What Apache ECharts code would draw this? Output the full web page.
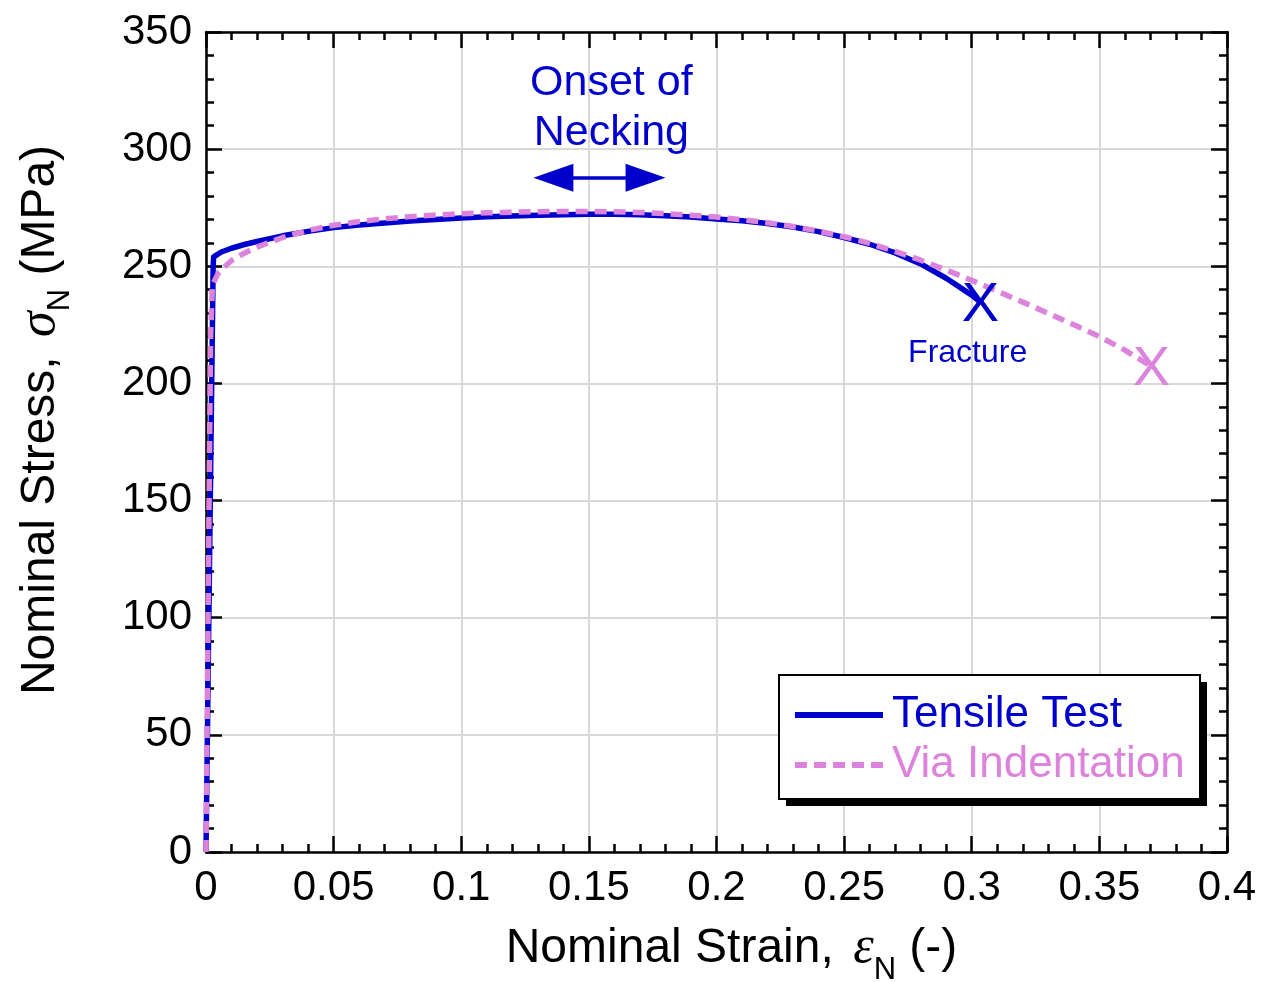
<!DOCTYPE html>
<html>
<head>
<meta charset="utf-8">
<title>Nominal stress-strain curves</title>
<script src="https://cdn.jsdelivr.net/npm/echarts@6/dist/echarts.min.js"></script>
<style>
  html, body { margin: 0; padding: 0; background: #ffffff; }
  #chart { width: 1261px; height: 982px; }
</style>
</head>
<body>
<div id="chart"></div>
<script>
// Nominal strain / nominal stress (MPa) from the uniaxial tensile test
var tensileStrain = [0, 0.0028, 0.003, 0.006, 0.01, 0.015, 0.02, 0.03, 0.04, 0.05, 0.06, 0.07, 0.08, 0.09, 0.1, 0.11, 0.12, 0.13, 0.14, 0.15, 0.16, 0.17, 0.18, 0.19, 0.2, 0.21, 0.22, 0.23, 0.24, 0.25, 0.26, 0.27, 0.28, 0.29, 0.3, 0.303];
var tensileStress = [0, 250, 254, 256.1, 257.7, 259.3, 260.6, 263, 264.9, 266.5, 267.6, 268.5, 269.3, 270, 270.6, 271.1, 271.5, 271.8, 272.05, 272.2, 272.2, 272, 271.6, 271, 270.2, 269.4, 268.3, 266.8, 264.8, 262.3, 259.4, 255.7, 251, 244.9, 237.7, 235];

// Nominal strain / nominal stress (MPa) estimated via indentation
var indentStrain = [0, 0.0012, 0.0018, 0.0025, 0.005, 0.01, 0.015, 0.02, 0.03, 0.04, 0.05, 0.06, 0.07, 0.08, 0.09, 0.1, 0.11, 0.12, 0.13, 0.14, 0.15, 0.16, 0.17, 0.18, 0.19, 0.2, 0.21, 0.22, 0.23, 0.24, 0.25, 0.26, 0.27, 0.28, 0.29, 0.3, 0.31, 0.32, 0.33, 0.34, 0.35, 0.36, 0.37];
var indentStress = [0, 150, 220, 242, 247.5, 252.5, 255.6, 258.2, 262.3, 265.3, 267.5, 269.1, 270.3, 271.2, 271.9, 272.4, 272.8, 273.1, 273.3, 273.4, 273.4, 273.3, 273, 272.5, 271.8, 271, 269.9, 268.6, 267, 265, 262.6, 259.8, 256.4, 252.6, 248.4, 244, 239.4, 234.7, 229.9, 225, 220, 214.2, 207.5];

var seriesNames = ['Tensile Test', 'Via Indentation'];
var xTicks = { min: 0, max: 0.4, step: 0.05 };
var yTicks = { min: 0, max: 350, step: 50 };

// Annotation positions (strain, stress)
var neckingText = ['Onset of', 'Necking'];
var neckingLabelAt = [0.1588, 317.5];
var neckingRange = [0.1361, 0.1722, 287.8];
var fractureText = 'Fracture';
var fractureLabelAt = [0.2984, 213];

var BLUE = '#0000cd';
var PINK = '#dc84dc';
var FONT = '"Liberation Sans", Arial, Helvetica, sans-serif';
var SERIF = '"Liberation Serif", "Times New Roman", serif';

// legend swatches: a solid bar and a row of dashes (88 x 6)
var SOLID_ICON = 'path://M0,0H88V6H0Z';
var DASH_ICON = 'path://M0,0H12V6H0Z M19,0H31V6H19Z M38,0H50V6H38Z M57,0H69V6H57Z M76,0H88V6H76Z';

function pairs(xs, ys) {
  return xs.map(function (x, i) { return [x, ys[i]]; });
}
var tensileData = pairs(tensileStrain, tensileStress);
var indentData = pairs(indentStrain, indentStress);

function frameAxis(extra) {
  var base = {
    type: 'value',
    axisLine: { show: true, onZero: false, lineStyle: { color: '#000', width: 2.5 } },
    axisTick: { show: true, inside: true, length: 16, lineStyle: { color: '#000', width: 2.5 } },
    minorTick: { show: true, splitNumber: 5, length: 8, lineStyle: { color: '#000', width: 2.5 } },
    splitLine: { show: false },
    axisLabel: { show: false }
  };
  return Object.assign(base, extra);
}

var chart = echarts.init(document.getElementById('chart'), null, { renderer: 'canvas' });

var legendBox = { x: 779, y: 675, width: 421, height: 124, shadow: 7 };

var option = {
  animation: false,
  backgroundColor: '#ffffff',
  grid: { left: 206, right: 34, top: 32, bottom: 130, containLabel: false, outerBoundsMode: 'none' },
  graphic: [
    {
      type: 'rect', z: 10, silent: true,
      shape: { x: legendBox.x + legendBox.shadow, y: legendBox.y + legendBox.shadow, width: legendBox.width, height: legendBox.height },
      style: { fill: '#000000' }
    },
    {
      type: 'rect', z: 11, silent: true,
      shape: { x: legendBox.x, y: legendBox.y, width: legendBox.width, height: legendBox.height },
      style: { fill: '#ffffff', stroke: '#000000', lineWidth: 2 }
    }
  ],
  legend: {
    orient: 'vertical',
    left: legendBox.x,
    top: legendBox.y,
    z: 20,
    data: [
      { name: seriesNames[0], icon: SOLID_ICON, textStyle: { color: BLUE } },
      { name: seriesNames[1], icon: DASH_ICON, textStyle: { color: PINK } }
    ],
    itemWidth: 88,
    itemHeight: 6,
    itemGap: 2,
    padding: [16, 16, 10, 16],
    textStyle: { fontFamily: FONT, fontSize: 44, lineHeight: 48, padding: [0, 0, 0, 4] },
    selectedMode: false
  },
  xAxis: [
    frameAxis({
      position: 'bottom',
      min: xTicks.min, max: xTicks.max, interval: xTicks.step,
      splitLine: { show: true, lineStyle: { color: '#d9d9d9', width: 2 } },
      axisLabel: { show: true, color: '#000', fontFamily: FONT, fontSize: 42, margin: 15 },
      name: 'Nominal Strain, {e|ε}{n|N} {a|(-)}',
      nameLocation: 'middle',
      nameGap: 59,
      nameTextStyle: {
        color: '#000', fontFamily: FONT, fontSize: 48, padding: [0, 0, 0, 30],
        rich: {
          a: { color: '#000', fontFamily: FONT, fontSize: 48 },
          e: { color: '#000', fontFamily: SERIF, fontStyle: 'italic', fontSize: 52, padding: [0, 0, 0, 6] },
          n: { color: '#000', fontFamily: FONT, fontSize: 31, padding: [44, 0, 0, 0] }
        }
      }
    }),
    frameAxis({ position: 'top', min: xTicks.min, max: xTicks.max, interval: xTicks.step })
  ],
  yAxis: [
    frameAxis({
      position: 'left',
      min: yTicks.min, max: yTicks.max, interval: yTicks.step,
      splitLine: { show: true, lineStyle: { color: '#d9d9d9', width: 2 } },
      axisLabel: { show: true, color: '#000', fontFamily: FONT, fontSize: 42, margin: 14 },
      name: 'Nominal Stress, {s|σ}{n|N} {a|(MPa)}',
      nameLocation: 'middle',
      nameRotate: 90,
      nameGap: 130,
      nameTextStyle: {
        color: '#000', fontFamily: FONT, fontSize: 48, padding: [0, 0, 0, 44],
        rich: {
          a: { color: '#000', fontFamily: FONT, fontSize: 48 },
          s: { color: '#000', fontFamily: SERIF, fontStyle: 'italic', fontSize: 52, padding: [0, 0, 0, 6] },
          n: { color: '#000', fontFamily: FONT, fontSize: 31, padding: [40, 0, 0, 0] }
        }
      }
    }),
    frameAxis({ position: 'right', min: yTicks.min, max: yTicks.max, interval: yTicks.step })
  ],
  series: [
    {
      name: seriesNames[0],
      type: 'line',
      data: tensileData,
      showSymbol: false,
      symbol: 'none',
      smooth: false,
      lineStyle: { color: BLUE, width: 5.5, type: 'solid', join: 'round' },
      itemStyle: { color: BLUE },
      z: 3,
      markLine: {
        silent: true,
        symbol: ['triangle', 'triangle'],
        symbolSize: [28, 40],
        label: { show: false },
        lineStyle: { color: BLUE, width: 3.5, type: 'solid' },
        itemStyle: { color: BLUE },
        data: [[
          { coord: [neckingRange[0], neckingRange[2]] },
          { coord: [neckingRange[1], neckingRange[2]] }
        ]]
      }
    },
    {
      name: seriesNames[1],
      type: 'line',
      data: indentData,
      showSymbol: false,
      symbol: 'none',
      smooth: false,
      lineStyle: { color: PINK, width: 5.5, type: [12, 7], join: 'round' },
      itemStyle: { color: PINK },
      z: 4
    },
    {
      // fracture markers at the last point of each curve
      name: 'fracture',
      type: 'scatter',
      silent: true,
      symbolSize: 0,
      z: 5,
      itemStyle: { opacity: 1 },
      data: [
        { value: tensileData[tensileData.length - 1], label: { color: BLUE } },
        { value: indentData[indentData.length - 1], label: { color: PINK } }
      ],
      label: {
        show: true, position: 'inside', formatter: 'X',
        fontFamily: FONT, fontSize: 56, offset: [1, 4], opacity: 1
      }
    },
    {
      name: 'notes',
      type: 'scatter',
      silent: true,
      symbolSize: 0,
      z: 6,
      itemStyle: { opacity: 1 },
      data: [
        { value: neckingLabelAt, label: { formatter: neckingText.join('\n'), fontSize: 43, lineHeight: 50 } },
        { value: fractureLabelAt, label: { formatter: fractureText, fontSize: 32 } }
      ],
      label: {
        show: true, position: 'inside', color: BLUE, fontFamily: FONT, align: 'center', opacity: 1
      }
    }
  ]
};

chart.setOption(option);
</script>
</body>
</html>
